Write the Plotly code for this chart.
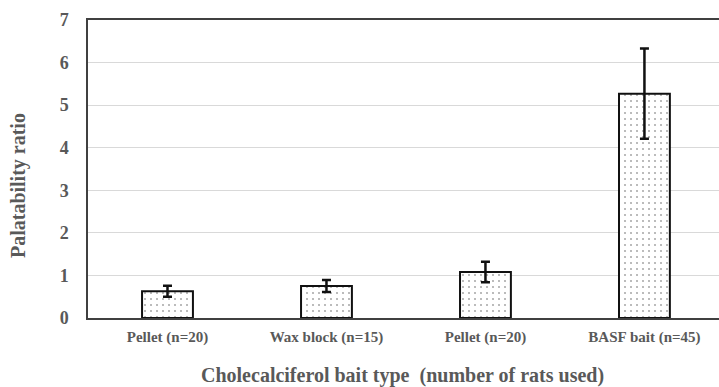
import plotly.graph_objects as go

categories = ["Pellet (n=20)", "Wax block (n=15)", "Pellet (n=20) ", "BASF bait (n=45)"]
tick_labels = ["Pellet (n=20)", "Wax block (n=15)", "Pellet (n=20)", "BASF bait (n=45)"]
ratio_mean = [0.63, 0.75, 1.08, 5.27]
ratio_err = [0.13, 0.14, 0.24, 1.06]
y_ticks = [0, 1, 2, 3, 4, 5, 6, 7]

FONT = "Liberation Serif"
GRAY = "#595959"

fig = go.Figure()
fig.add_trace(go.Bar(
    x=list(range(len(categories))),
    y=ratio_mean,
    width=0.32,
    marker=dict(
        color="white",
        line=dict(color="#111111", width=2),
        pattern=dict(shape=".", fgcolor="#555555", bgcolor="white", size=6, solidity=0.1),
    ),
    error_y=dict(type="data", array=ratio_err, visible=True, color="#111111",
                 thickness=2.5, width=4.5),
    showlegend=False,
))

fig.update_layout(
    width=719, height=387,
    margin=dict(l=88, r=0, t=20, b=69),
    plot_bgcolor="white", paper_bgcolor="white",
    font=dict(family=FONT, color=GRAY),
    xaxis=dict(
        tickmode="array", tickvals=list(range(len(categories))), ticktext=tick_labels,
        range=[-0.5, 3.469],
        showline=True, linecolor="#404040", linewidth=1.5, mirror=True,
        showgrid=False, ticks="", automargin=False, ticklabelstandoff=4,
        tickfont=dict(family=FONT, size=15, color=GRAY, weight="bold"),
    ),
    yaxis=dict(
        range=[0, 7], tickmode="array", tickvals=y_ticks,
        showline=True, linecolor="#404040", linewidth=1.5,
        showgrid=True, gridcolor="#d9d9d9", gridwidth=1.2,
        zeroline=False, ticks="", ticklabelstandoff=14, automargin=False,
        tickfont=dict(family=FONT, size=18, color=GRAY, weight="bold"),
    ),
    annotations=[
        dict(text="Cholecalciferol bait type&nbsp; (number of rats used)", xref="paper", yref="paper",
             x=0.498, y=-0.1946, xanchor="center", yanchor="middle", showarrow=False,
             font=dict(family=FONT, size=20, color=GRAY, weight="bold")),
        dict(text="Palatability ratio", xref="paper", yref="paper",
             x=-0.111, y=0.446, xanchor="center", yanchor="middle", showarrow=False,
             textangle=-90, font=dict(family=FONT, size=20, color=GRAY, weight="bold")),
    ],
)

fig.write_html("out.html", config={"displayModeBar": False},
               post_script="document.body.style.margin='0';")
